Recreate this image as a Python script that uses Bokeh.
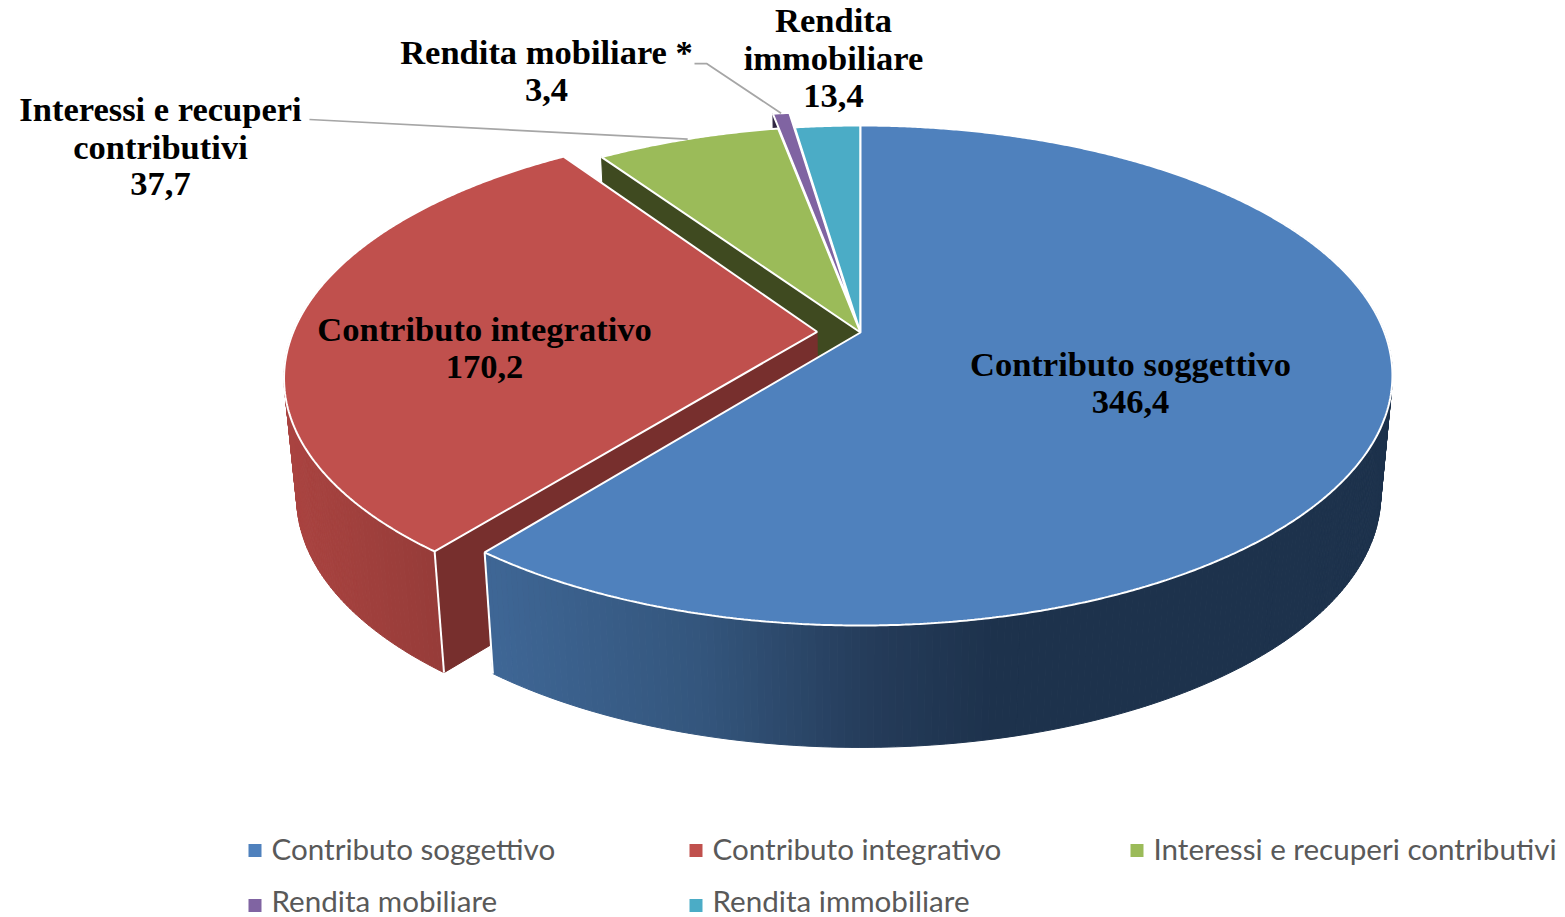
import numpy as np
from bokeh.plotting import figure
from bokeh.models import Range1d, ColumnDataSource
from bokeh.core.properties import value
from bokeh.embed import file_html
from bokeh.resources import INLINE

# ---- data ----
categories = ["Contributo soggettivo", "Contributo integrativo",
              "Interessi e recuperi contributivi", "Rendita mobiliare",
              "Rendita immobiliare"]
values = [346.4, 170.2, 37.7, 3.4, 13.4]
value_labels = ["346,4", "170,2", "37,7", "3,4", "13,4"]
explode = [0.0, 0.083, 0.0, 0.085, 0.0]
top_colors = ["#4F81BD", "#C0504D", "#9BBB59", "#8064A2", "#4BACC6"]

# ---- projection of the pie (perspective view of a tilted disc) ----
CX, CY, RX, RY, K = 860.0, 332.0, 524.0, 242.6, 0.172
BOTTOM_CY, BOTTOM_SX, BOTTOM_SY = 451.0, 0.978, 1.01

total = sum(values)
edges = np.concatenate([[0.0], np.cumsum(values) / total * 360.0])
mids = (edges[:-1] + edges[1:]) / 2


def offset(i):
    a = np.radians(mids[i])
    return explode[i] * np.sin(a), explode[i] * np.cos(a)


def project(u, v, bottom=False):
    w = 1 + K * v
    if bottom:
        return CX + BOTTOM_SX * RX * u / w, BOTTOM_CY - BOTTOM_SY * RY * v / w
    return CX + RX * u / w, CY - RY * v / w


def rim(i, a0, a1, bottom=False, n=None):
    n = n or max(3, int(abs(a1 - a0) * 3))
    t = np.radians(np.linspace(a0, a1, n))
    du, dv = offset(i)
    return project(np.sin(t) + du, np.cos(t) + dv, bottom)


def apex(i, bottom=False):
    du, dv = offset(i)
    return project(du, dv, bottom)


def top_wedge(i):
    x, y = rim(i, edges[i], edges[i + 1])
    ax, ay = apex(i)
    return [ax, *x, ax], [ay, *y, ay]


def cut_face(i, angle):
    x0, y0 = rim(i, angle, angle, n=2)
    x1, y1 = rim(i, angle, angle, True, n=2)
    ax, ay = apex(i)
    bx, by = apex(i, True)
    return [ax, x0[0], x1[0], bx], [ay, y0[0], y1[0], by]


def shade(x, stops):
    xs, cols = zip(*stops)
    cols = np.array(cols, float)
    c = [int(np.interp(x, xs, cols[:, k])) for k in range(3)]
    return "#%02x%02x%02x" % tuple(c)


p = figure(width=1565, height=917, output_backend="svg", toolbar_location=None,
           x_range=Range1d(0, 1565), y_range=Range1d(917, 0), min_border=0,
           outline_line_color=None, background_fill_color="white")
p.axis.visible = False
p.grid.visible = False

# ---- side faces, back to front ----
p.patch(*cut_face(3, edges[3]), fill_color="#2E2540", line_color="#2E2540")
p.patch(*cut_face(2, edges[2]), fill_color="#3F4A20", line_color="#3F4A20")


def outer_side(i, a0, a1, stops):
    xt, yt = rim(i, a0, a1, False, n=int((a1 - a0) * 1.5))
    xb, yb = rim(i, a0, a1, True, n=int((a1 - a0) * 1.5))
    xs, ys, cs = [], [], []
    for j in range(len(xt) - 1):
        xs.append([xt[j], xt[j + 1], xb[j + 1], xb[j]])
        ys.append([yt[j], yt[j + 1], yb[j + 1], yb[j]])
        cs.append(shade((xt[j] + xt[j + 1]) / 2, stops))
    src = ColumnDataSource(dict(xs=xs, ys=ys, c=cs))
    p.patches("xs", "ys", source=src, fill_color="c", line_color="c", line_width=1)


red_stops = [(285, (170, 68, 65)), (440, (150, 60, 57))]
blue_stops = [(485, (63, 103, 150)), (700, (52, 86, 125)), (870, (37, 60, 90)), (1000, (29, 50, 76))]

outer_side(1, edges[1], 290, red_stops)
p.patch(*cut_face(1, edges[1]), fill_color="#772F2D", line_color="#772F2D")
rx0, ry0 = rim(1, edges[1], edges[1], n=2)
rx1, ry1 = rim(1, edges[1], edges[1], True, n=2)
p.line([rx0[0], rx1[0]], [ry0[0], ry1[0]], line_color="white", line_width=2)

outer_side(0, 60, edges[1], blue_stops)
bx0, by0 = rim(0, edges[1], edges[1], n=2)
bx1, by1 = rim(0, edges[1], edges[1], True, n=2)
p.line([bx0[0], bx1[0]], [by0[0], by1[0]], line_color="white", line_width=2)

# ---- top faces ----
for i in [4, 2, 3, 1, 0]:
    x, y = top_wedge(i)
    p.patch(x, y, fill_color=top_colors[i], line_color="white", line_width=2)

# ---- leader lines ----
gx, gy = rim(2, mids[2], mids[2], n=2)
mx, my = rim(3, mids[3], mids[3], n=2)
p.line([309, gx[0]], [119, gy[0]], line_color="#A6A6A6", line_width=1.75)
p.line([694, 706, mx[0]], [63, 63, my[0]], line_color="#A6A6A6", line_width=1.75)

# ---- data labels ----
label_lines = [
    (1130, 363.5, "Contributo soggettivo"), (1130, 401, value_labels[0]),
    (484, 328.5, "Contributo integrativo"), (484, 366, value_labels[1]),
    (160, 108.5, "Interessi e recuperi"), (160, 146, "contributivi"), (160, 183, value_labels[2]),
    (546, 51.5, "Rendita mobiliare *"), (546, 89, value_labels[3]),
    (833, 19.5, "Rendita"), (833, 57.5, "immobiliare"), (833, 95, value_labels[4]),
]
lx, ly, lt = zip(*label_lines)
p.text(list(lx), list(ly), text=list(lt), text_font=value("Liberation Serif"),
       text_font_style="bold", text_font_size="34.5px", text_color="black",
       text_align="center", text_baseline="middle")

# ---- legend ----
legend_pos = [(248, 850), (689, 850), (1130, 850), (248, 905), (689, 905)]
text_y = [848, 848, 848, 899.5, 899.5]
kx = [a + 6.5 for a, _ in legend_pos]
ky = [b for _, b in legend_pos]
p.rect(kx, ky, width=13, height=13, fill_color=top_colors, line_color=None)
p.text([a + 23 for a, _ in legend_pos], text_y, text=categories,
       text_font=value("Lato"), text_font_size="29.6px", text_color="#595959",
       text_align="left", text_baseline="middle")

open("out.html", "w").write(file_html(p, INLINE))
